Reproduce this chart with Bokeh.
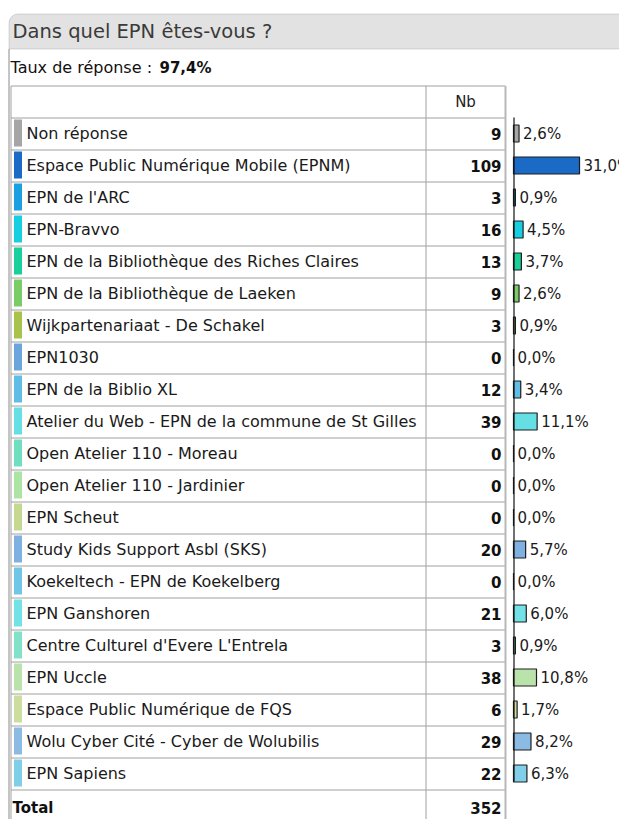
from bokeh.plotting import figure
from bokeh.models import Range1d, ColumnDataSource, BoxAnnotation
from bokeh.core.properties import value
from bokeh.embed import file_html
from bokeh.resources import INLINE

title = "Dans quel EPN êtes-vous ?"
rate_label = "Taux de réponse :"
rate_value = "97,4%"
header_nb = "Nb"
total_label = "Total"
total_value = 352

names = [
    "Non réponse",
    "Espace Public Numérique Mobile (EPNM)",
    "EPN de l'ARC",
    "EPN-Bravvo",
    "EPN de la Bibliothèque des Riches Claires",
    "EPN de la Bibliothèque de Laeken",
    "Wijkpartenariaat - De Schakel",
    "EPN1030",
    "EPN de la Biblio XL",
    "Atelier du Web - EPN de la commune de St Gilles",
    "Open Atelier 110  - Moreau",
    "Open Atelier 110 - Jardinier",
    "EPN Scheut",
    "Study Kids Support Asbl (SKS)",
    "Koekeltech - EPN de Koekelberg",
    "EPN Ganshoren",
    "Centre Culturel d'Evere L'Entrela",
    "EPN Uccle",
    "Espace Public Numérique de FQS",
    "Wolu Cyber Cité - Cyber de Wolubilis",
    "EPN Sapiens",
]
counts = [9, 109, 3, 16, 13, 9, 3, 0, 12, 39, 0, 0, 0, 20, 0, 21, 3, 38, 6, 29, 22]
percents = [2.6, 31.0, 0.9, 4.5, 3.7, 2.6, 0.9, 0.0, 3.4, 11.1, 0.0, 0.0, 0.0, 5.7, 0.0,
            6.0, 0.9, 10.8, 1.7, 8.2, 6.3]
colors = [
    "#a6a6a6", "#1a6ac6", "#1aa0e0", "#17cfe0", "#19cf9a", "#7acc66", "#a9c24a",
    "#6aa6dc", "#5fbde6", "#65dfe4", "#70dfc0", "#ade3a3", "#c5d88f", "#7eb0e1",
    "#70c6e6", "#73e2e6", "#82e2c8", "#b9e3aa", "#ccdd9d", "#8bbbe3", "#80cfe8",
]

# ---- layout constants (pixels inside the figure) ----
W, H = 619, 819
FONT = "DejaVu Sans"
row_top0 = 117
row_h = 32
tbl_left, tbl_top = 10.5, 85.5
col_div = 425.5
tbl_right = 505
axis_x = 513
px_per_pct = 2.13
bar_h = 17

n = len(names)
row_tops = [row_top0 + row_h * i for i in range(n)]
row_mid = [t + row_h / 2 for t in row_tops]
pct_labels = [f"{v:.1f}%".replace(".", ",") for v in percents]

p = figure(width=W, height=H, x_range=Range1d(0, W), y_range=Range1d(H, 0),
           output_backend="svg", toolbar_location=None, min_border=0,
           x_axis_location=None, y_axis_location=None, outline_line_color=None,
           background_fill_color="white", border_fill_color="white")
p.grid.visible = False

# percent scale for bars
p.extra_x_ranges = {"pct": Range1d(-axis_x / px_per_pct, (W - axis_x) / px_per_pct)}

# title bar with rounded corner
p.add_layout(BoxAnnotation(left=8.5, right=W + 20, top=13.5, bottom=48.5,
                           fill_color="#e2e2e2", fill_alpha=1, line_color="#8a8a8a",
                           line_width=1, level="underlay",
                           border_radius=dict(top_left=9, top_right=0,
                                              bottom_right=0, bottom_left=0)))
p.segment(x0=[8.5], y0=[48.5], x1=[8.5], y1=[H], line_color="#8a8a8a", line_width=1)
p.text(x=[12], y=[31], text=[title], text_font=value(FONT), text_font_size="19.5px",
       text_color="#3a3a3a", text_baseline="middle")

p.text(x=[10], y=[67], text=[rate_label], text_font=value(FONT), text_font_size="16px",
       text_color="#111111", text_baseline="middle")
p.text(x=[159], y=[67], text=[rate_value], text_font=value(FONT), text_font_size="15px",
       text_font_style="bold", text_color="#111111", text_baseline="middle")

# table grid
grid_color = "#a0a0a0"
hy = [tbl_top, row_top0 + 0.5] + [t + row_h + 0.5 for t in row_tops]
p.segment(x0=[tbl_left] * len(hy), y0=hy, x1=[tbl_right] * len(hy), y1=hy,
          line_color=grid_color, line_width=1)
p.segment(x0=[tbl_left, col_div], y0=[tbl_top, tbl_top], x1=[tbl_left, col_div], y1=[H, H],
          line_color=grid_color, line_width=1)
p.segment(x0=[tbl_right], y0=[tbl_top], x1=[tbl_right], y1=[H],
          line_color="#b8b8b8", line_width=2)

p.text(x=[465], y=[101], text=[header_nb], text_font=value(FONT), text_font_size="15px",
       text_color="#222222", text_align="center", text_baseline="middle")

src = ColumnDataSource(dict(name=names, count=[str(c) for c in counts], pct=percents,
                            lab=pct_labels, color=colors, mid=row_mid,
                            sq_top=[t + 2 for t in row_tops], sq_bot=[t + 29 for t in row_tops]))

# color squares
p.quad(left=13.5, right=21.5, top="sq_top", bottom="sq_bot", fill_color="color",
       line_color=None, source=src)
# names
p.text(x=26, y="mid", text="name", text_font=value(FONT), text_font_size="16px",
       text_color="#1a1a1a", text_baseline="middle", source=src)
# counts
p.text(x=501, y="mid", text="count", text_font=value(FONT), text_font_size="15px",
       text_font_style="bold", text_color="#111111", text_align="right",
       text_baseline="middle", source=src)

# bars
src2 = ColumnDataSource(dict(pct=percents, zero=[0] * n, color=colors,
                             top=[m - bar_h / 2 for m in row_mid],
                             bot=[m + bar_h / 2 for m in row_mid]))
p.quad(left="zero", right="pct", top="top", bottom="bot", fill_color="color",
       line_color="#1e1e1e", line_width=1.2, x_range_name="pct", source=src2)
p.text(x="pct", y="mid", text="lab", x_offset=4, text_font=value(FONT),
       text_font_size="15px", text_color="#1a1a1a", text_baseline="middle",
       x_range_name="pct", source=src)

# axis line of the bars
p.segment(x0=[axis_x + 0.5], y0=[row_top0], x1=[axis_x + 0.5], y1=[row_tops[-1] + row_h - 8],
          line_color="#111111", line_width=1.2)

# total row
total_mid = row_top0 + row_h * n + row_h / 2
p.text(x=[12], y=[total_mid + 2], text=[total_label], text_font=value(FONT), text_font_size="15px",
       text_font_style="bold", text_color="#111111", text_baseline="middle")
p.text(x=[501], y=[total_mid + 2], text=[str(total_value)], text_font=value(FONT),
       text_font_size="15px", text_font_style="bold", text_color="#111111",
       text_align="right", text_baseline="middle")

open("out.html", "w").write(file_html(p, INLINE))
